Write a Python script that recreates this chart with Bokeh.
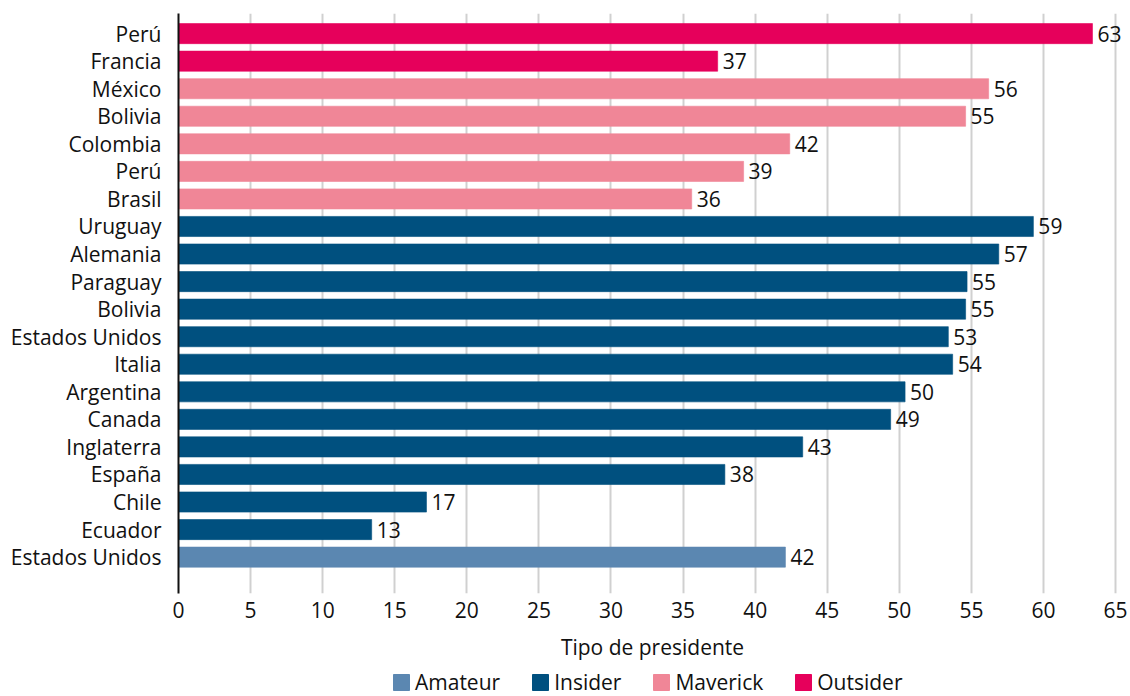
from bokeh.plotting import figure
from bokeh.layouts import column
from bokeh.models import ColumnDataSource, Range1d, FixedTicker, Legend, LegendItem
from bokeh.embed import file_html
from bokeh.resources import INLINE
from bokeh.core.properties import value

countries = ["Perú", "Francia", "México", "Bolivia", "Colombia", "Perú", "Brasil",
             "Uruguay", "Alemania", "Paraguay", "Bolivia", "Estados Unidos", "Italia",
             "Argentina", "Canada", "Inglaterra", "España", "Chile", "Ecuador", "Estados Unidos"]
values = [63.4, 37.4, 56.2, 54.6, 42.4, 39.2, 35.6,
          59.3, 56.9, 54.7, 54.6, 53.4, 53.7,
          50.4, 49.4, 43.3, 37.9, 17.2, 13.4, 42.1]
types = ["Outsider", "Outsider", "Maverick", "Maverick", "Maverick", "Maverick", "Maverick",
         "Insider", "Insider", "Insider", "Insider", "Insider", "Insider",
         "Insider", "Insider", "Insider", "Insider", "Insider", "Insider", "Amateur"]
legend_order = ["Amateur", "Insider", "Maverick", "Outsider"]
type_colors = {"Amateur": "#5B87B1", "Insider": "#00507F", "Maverick": "#F08697", "Outsider": "#E6005B"}
x_ticks = [0, 5, 10, 15, 20, 25, 30, 35, 40, 45, 50, 55, 60, 65]

FONT = "Open Sans"
FS = "21px"
pos = list(range(len(countries)))
src = ColumnDataSource(dict(
    y=pos, v=values, t=types,
    c=[type_colors[t] for t in types],
    lab=[str(int(round(v))) for v in values],
))

p = figure(frame_width=948, frame_height=580, output_backend="svg", toolbar_location=None,
           x_range=Range1d(0, 65.76), y_range=Range1d(20.32, -0.73),
           min_border_left=178, min_border_right=4, min_border_top=13, min_border_bottom=71)
p.outline_line_color = None

r = p.hbar(y="y", right="v", left=0, height=0.73, fill_color="c", line_color="c",
           line_alpha=0.6, source=src)
p.text(x="v", y="y", text="lab", source=src, x_offset=5, text_align="left",
       text_baseline="middle", text_font=value(FONT), text_font_size=FS, text_color="#111111")

p.ygrid.visible = False
p.xgrid.grid_line_color = "#d0d0d0"
p.xgrid.grid_line_width = 2
p.xgrid.ticker = FixedTicker(ticks=x_ticks)

p.xaxis.ticker = FixedTicker(ticks=x_ticks)
p.xaxis.axis_line_color = None
p.xaxis.major_tick_line_color = None
p.xaxis.minor_tick_line_color = None
p.xaxis.major_label_text_font = FONT
p.xaxis.major_label_text_font_size = FS
p.xaxis.major_label_text_color = "#111111"
p.xaxis.major_label_standoff = 2
p.xaxis.axis_label = "Tipo de presidente"
p.xaxis.axis_label_text_font = FONT
p.xaxis.axis_label_text_font_size = FS
p.xaxis.axis_label_text_font_style = "normal"
p.xaxis.axis_label_text_color = "#111111"
p.xaxis.axis_label_standoff = 12

p.yaxis.ticker = FixedTicker(ticks=pos)
p.yaxis.major_label_overrides = {i: c for i, c in zip(pos, countries)}
p.yaxis.axis_line_color = "#111111"
p.yaxis.axis_line_width = 2
p.yaxis.major_tick_line_color = None
p.yaxis.minor_tick_line_color = None
p.yaxis.major_label_text_font = FONT
p.yaxis.major_label_text_font_size = FS
p.yaxis.major_label_text_color = "#111111"
p.yaxis.major_label_standoff = 11

# legend strip below the chart (swatch renderers placed entirely off-frame)
lg = figure(width=1130, height=32, output_backend="svg", toolbar_location=None,
            x_range=Range1d(0, 1), y_range=Range1d(0, 1),
            min_border_left=0, min_border_right=0, min_border_top=0, min_border_bottom=0)
lg.outline_line_color = None
lg.axis.visible = False
lg.grid.visible = False
items = []
for t in legend_order:
    rr = lg.hbar(y=[-5], right=[-4], left=[-5], height=0.5,
                 fill_color=type_colors[t], line_color=type_colors[t])
    items.append(LegendItem(label=t, renderers=[rr]))
legend = Legend(items=items, orientation="horizontal", location=(213, 0),
                label_text_font=FONT, label_text_font_size=FS, label_text_color="#111111",
                glyph_width=20, glyph_height=20, label_standoff=4, spacing=30,
                border_line_color=None, background_fill_alpha=0, padding=0, margin=0)
lg.add_layout(legend, "center")

layout = column(p, lg, spacing=0)
open("out.html", "w").write(file_html(layout, INLINE))
